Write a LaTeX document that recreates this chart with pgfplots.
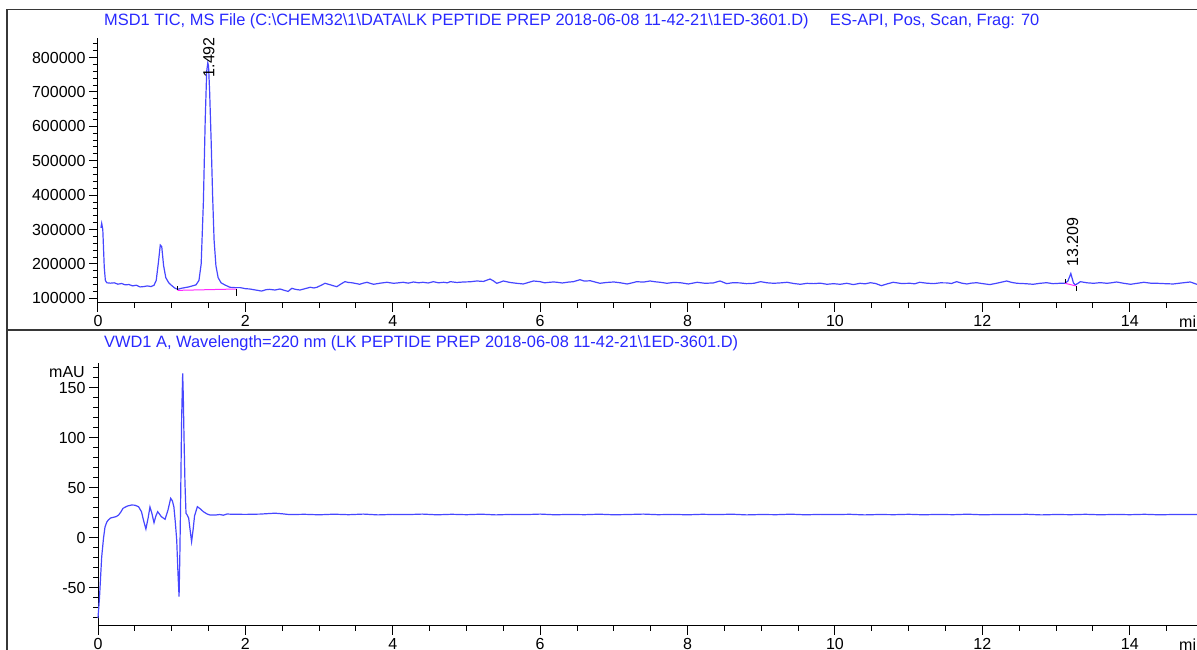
\documentclass[border=0pt]{standalone}
\usepackage{fontspec}
\setmainfont{Liberation Sans}
\usepackage{pgfplots}
\pgfplotsset{compat=1.18}

\definecolor{trace}{RGB}{70,70,255}
\definecolor{ttl}{RGB}{40,40,255}
\definecolor{integ}{RGB}{255,40,255}
\definecolor{framec}{RGB}{55,55,55}

\pgfplotsset{chroma/.style={
    scale only axis,
    axis x line=bottom, axis y line=left,
    axis line style={-, black, line width=1pt},
    tick align=outside,
    major tick length=9pt, minor tick length=5pt,
    every tick/.style={black, line width=1pt},
    xmin=0, xmax=15.5, width=1142.35pt,
    xtick={0,2,...,14}, minor xtick={0.5,1,...,15.5},
    tick label style={font=\fontsize{16}{18}\selectfont, text=black},
    /pgf/number format/assume math mode=true,
    clip=false,
}}

\begin{document}
\begin{tikzpicture}[x=1pt,y=1pt]
\useasboundingbox (0,0) rectangle (1197,650);
\clip (0,0) rectangle (1197,650);

% frame
\draw[framec, line width=1.5pt] (7,-5) -- (7,640.5) -- (1210,640.5);
\draw[framec, line width=1.5pt] (7,320) -- (1210,320);

% titles
\node[anchor=base west, text=ttl, font=\fontsize{16.4}{18}\selectfont, inner sep=0pt] at (104,624.5)
  {MSD1 TIC, MS File (C:\textbackslash CHEM32\textbackslash 1\textbackslash DATA\textbackslash LK PEPTIDE PREP 2018-06-08 11-42-21\textbackslash 1ED-3601.D)\hspace{1.3em}ES-API, Pos, Scan, Frag: 70};
\node[anchor=base west, text=ttl, font=\fontsize{16.4}{18}\selectfont, inner sep=0pt] at (104,302.5)
  {VWD1 A, Wavelength=220 nm (LK PEPTIDE PREP 2018-06-08 11-42-21\textbackslash 1ED-3601.D)};

% MS TIC
\begin{axis}[chroma,
    at={(98pt,347pt)}, anchor=south west,
    height=265pt,
    ymin=86300, ymax=857000,
    ytick={100000,200000,...,800000},
    minor ytick={100000,120000,...,840000},
    scaled y ticks=false,
    yticklabel style={/pgf/number format/.cd, fixed, 1000 sep={}},
]
\addplot[trace, line width=1.2pt] coordinates {
(0.04,305000)(0.05,318000)(0.065,300000)(0.085,190000)(0.10,152000)(0.12,145000)
(0.17,144000)(0.22,145000)(0.27,141000)(0.32,143000)(0.37,139000)(0.42,140000)
(0.47,136000)(0.52,138000)(0.57,133000)(0.62,134000)(0.67,136000)(0.72,134000)
(0.76,138000)(0.79,152000)(0.82,205000)(0.845,255000)(0.865,250000)(0.89,195000)
(0.92,160000)(0.96,145000)(1.00,137000)(1.04,130000)(1.08,126000)(1.13,129000)
(1.18,131000)(1.23,133000)(1.28,136000)(1.33,139000)(1.37,152000)(1.40,200000)
(1.43,380000)(1.455,620000)(1.475,760000)(1.49,785000)(1.50,775000)(1.515,700000)
(1.535,560000)(1.555,400000)(1.575,270000)(1.60,195000)(1.63,160000)(1.67,145000)
(1.72,139000)(1.79,132000)(1.86,131000)(1.93,131000)(2.00,128000)(2.06,127000)
(2.14,124000)(2.22,121000)(2.28,125000)(2.33,126000)(2.40,124000)(2.47,127000)
(2.53,123000)(2.58,120000)(2.63,129000)(2.68,126000)(2.74,124000)(2.81,128000)
(2.88,132000)(2.93,130000)(2.97,132000)(3.03,138000)(3.08,143600)(3.14,140000)
(3.19,136700)(3.24,133700)(3.30,142000)(3.35,148300)(3.40,146000)(3.44,145300)
(3.50,143000)(3.55,140700)(3.60,144000)(3.65,146500)(3.70,143000)(3.74,140700)
(3.83,144000)(3.92,146500)(4.01,143600)(4.08,145000)(4.14,146500)(4.21,144000)
(4.28,147400)(4.35,145000)(4.41,146500)(4.48,144500)(4.55,148300)(4.62,145000)
(4.69,146500)(4.74,145000)(4.78,148300)(4.87,146000)(4.96,147400)(5.05,148000)
(5.14,150300)(5.23,149000)(5.32,156100)(5.37,150000)(5.41,143600)(5.46,147000)
(5.50,150300)(5.59,146000)(5.68,143600)(5.77,141600)(5.84,146000)(5.91,150300)
(6.00,148300)(6.06,145000)(6.13,146500)(6.18,147500)(6.23,146500)(6.30,144500)
(6.38,147000)(6.45,148300)(6.54,154000)(6.60,150000)(6.68,151000)(6.75,147000)
(6.81,143600)(6.90,146000)(7.00,147400)(7.09,145000)(7.18,141600)(7.25,145000)
(7.31,148300)(7.40,147000)(7.49,150300)(7.56,148000)(7.63,146500)(7.72,143600)
(7.81,146000)(7.90,145300)(8.01,141600)(8.07,144000)(8.13,146500)(8.24,143500)
(8.35,144700)(8.44,150300)(8.53,142600)(8.62,145500)(8.71,144700)(8.80,142500)
(8.90,143600)(8.99,148300)(9.08,145000)(9.17,143600)(9.26,144800)(9.35,146500)
(9.44,143000)(9.53,140700)(9.62,143500)(9.71,142600)(9.80,144000)(9.89,140700)
(9.98,142500)(10.07,140700)(10.16,143600)(10.25,139800)(10.34,143600)(10.41,142000)
(10.48,145300)(10.55,143000)(10.63,136700)(10.71,142000)(10.79,146500)(10.90,143000)
(11.02,143600)(11.08,142000)(11.15,146500)(11.24,144000)(11.34,142600)(11.43,145000)
(11.52,144700)(11.58,143000)(11.65,148300)(11.72,144000)(11.79,141600)(11.85,144000)
(11.92,145300)(12.01,142500)(12.10,139800)(12.20,144000)(12.33,150300)(12.40,146000)
(12.47,143600)(12.58,142500)(12.69,140700)(12.78,143500)(12.87,145300)(12.96,142500)
(13.05,143600)(13.12,143600)(13.16,150000)(13.20,172000)(13.235,145000)(13.26,138700)
(13.30,144000)(13.33,148300)(13.42,145000)(13.51,143600)(13.60,145500)(13.69,143600)
(13.75,145000)(13.82,147400)(13.92,143500)(14.01,140700)(14.10,143500)(14.19,146500)
(14.28,144000)(14.37,143600)(14.48,142500)(14.59,141600)(14.70,144500)(14.82,147400)
(14.91,140700)(15.00,143000)(15.20,144000)(15.50,143000)
};
% integration baselines
\addplot[integ, line width=1pt] coordinates {(1.08,123000)(1.88,127000)};
\addplot[black, line width=0.8pt] coordinates {(1.08,123000)(1.08,136000)};
\addplot[black, line width=0.8pt] coordinates {(1.88,127000)(1.88,107000)};
\addplot[integ, line width=1pt] coordinates {(13.12,143600)(13.27,136000)};
\addplot[black, line width=0.8pt] coordinates {(13.12,143600)(13.12,157000)};
\addplot[black, line width=0.8pt] coordinates {(13.27,136000)(13.27,121000)};
% peak labels
\node[rotate=90, anchor=west, font=\fontsize{16}{18}\selectfont, inner sep=0pt] at (axis cs:1.505,742000) {1.492};
\node[rotate=90, anchor=west, font=\fontsize{16}{18}\selectfont, inner sep=0pt] at (axis cs:13.225,192000) {13.209};
\end{axis}
\node[anchor=base west, font=\fontsize{16}{18}\selectfont, inner sep=0pt] at (1179,322.5) {min};

% VWD
\begin{axis}[chroma,
    at={(98pt,24pt)}, anchor=south west,
    height=263pt,
    ymin=-88, ymax=175,
    ytick={-50,0,50,100,150},
    minor ytick={-80,-70,...,170},
]
\addplot[trace, line width=1.2pt] coordinates {
(0,-80)(0.02,-60)(0.05,-19)(0.075,0)(0.095,11)(0.12,16)(0.14,18)(0.17,20)
(0.21,20.7)(0.25,21.5)(0.28,23)(0.31,26)(0.34,29.7)(0.40,32)(0.457,33)(0.50,32.8)
(0.55,31.3)(0.59,26.3)(0.62,17)(0.65,9)(0.68,20)(0.705,31)(0.73,25)(0.76,15.3)
(0.785,22)(0.81,26.3)(0.86,21.3)(0.91,18.7)(0.95,28)(0.986,39.7)(1.01,37)(1.03,31)
(1.05,15)(1.068,-2)(1.085,-35)(1.10,-58.7)(1.11,-20)(1.12,31)(1.135,120)(1.149,164.7)
(1.158,140)(1.166,104.7)(1.18,55)(1.194,24.7)(1.21,23)(1.23,20)(1.25,8)(1.27,-3.7)
(1.29,8)(1.31,22)(1.348,31.3)(1.39,29)(1.43,26.3)(1.48,24)(1.52,23)(1.60,23)
(1.65,23.5)(1.70,22.8)(1.75,24)(1.80,23.8)(2.00,23.6)(2.20,23.9)(2.40,24.8)(2.50,24.2)
(2.60,23.4)(2.80,23.7)(3.00,23.2)(3.20,23.8)(3.40,23.3)(3.60,23.9)(3.80,23.1)(4.00,23.6)
(4.20,23.4)(4.40,23.9)(4.60,23.2)(4.80,23.7)(5.00,23.3)(5.20,23.8)(5.40,23.1)(5.60,23.6)
(5.80,23.4)(6.00,23.9)(6.20,23.2)(6.40,23.6)(6.60,23.3)(6.80,23.8)(7.00,23.2)(7.20,23.5)
(7.40,23.9)(7.60,23.3)(7.80,23.6)(8.00,23.2)(8.20,23.7)(8.40,23.4)(8.60,23.8)(8.80,23.1)
(9.00,23.5)(9.20,23.3)(9.40,23.8)(9.60,23.2)(9.80,23.6)(10.00,23.4)(10.20,23.7)(10.40,23.1)
(10.60,23.5)(10.80,23.3)(11.00,23.7)(11.20,23.2)(11.40,23.6)(11.60,23.3)(11.80,23.8)(12.00,23.2)
(12.20,23.5)(12.40,23.4)(12.60,23.7)(12.80,23.1)(13.00,23.5)(13.20,23.3)(13.40,23.7)(13.60,23.2)
(13.80,23.6)(14.00,23.3)(14.20,23.7)(14.40,23.2)(14.60,23.5)(14.80,23.4)(15.00,23.6)(15.20,23.4)
(15.50,23.5)
};
\node[anchor=east, font=\fontsize{16}{18}\selectfont, inner sep=0pt] at (axis cs:0,166) [xshift=-13pt] {mAU};
\end{axis}
\node[anchor=base west, font=\fontsize{16}{18}\selectfont, inner sep=0pt] at (1179,-0.5) {min};
\end{tikzpicture}
\end{document}
